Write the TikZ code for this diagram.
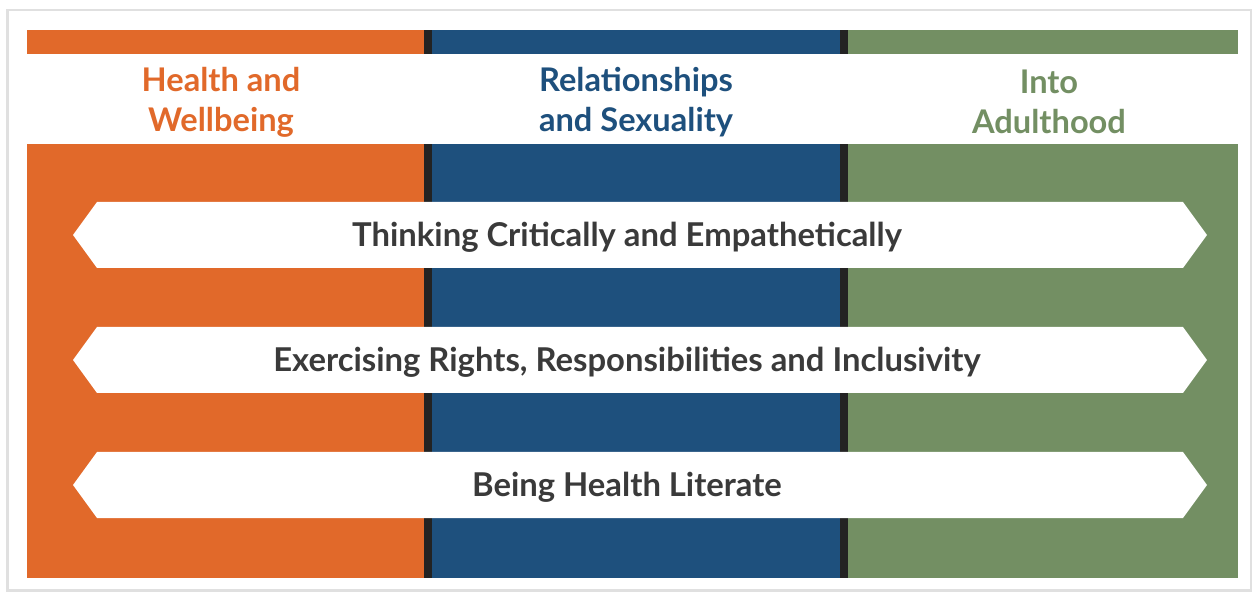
\documentclass[tikz,border=0pt]{standalone}
\usepackage{fontspec}
\setmainfont{Lato}
\usepackage{tikz}
\definecolor{hwOrange}{HTML}{E1692A}
\definecolor{rsBlue}{HTML}{1E507D}
\definecolor{adGreen}{HTML}{738F63}
\definecolor{sepDark}{HTML}{232323}
\definecolor{txtGray}{HTML}{3A3A3A}
\tikzset{
  title/.style={font=\bfseries\fontsize{16.3}{20}\selectfont, align=center},
  banner/.style={font=\bfseries\fontsize{16.4}{19}\selectfont, text=txtGray},
  bannerfill/.style={fill=white}
}

\begin{document}
\begin{tikzpicture}[x=0.5pt,y=-0.5pt]
    \useasboundingbox (0,0) rectangle (1257,592);
    \fill[white] (0,0) rectangle (1257,592);
    % frame with a soft shadow
    \fill[black!12] (6,9) rectangle (1252,592);
    \fill[white] (9,11) rectangle (1250,589);
    % top strips
    \fill[hwOrange] (27,30) rectangle (424,54);
    \fill[rsBlue] (432,30) rectangle (840,54);
    \fill[adGreen] (848,30) rectangle (1238,54);
    \fill[sepDark] (424,30) rectangle (432,54);
    \fill[sepDark] (840,30) rectangle (848,54);
    % columns
    \fill[hwOrange] (27,144) rectangle (424,578);
    \fill[rsBlue] (432,144) rectangle (840,578);
    \fill[adGreen] (848,144) rectangle (1238,578);
    \fill[sepDark] (424,144) rectangle (432,578);
    \fill[sepDark] (840,144) rectangle (848,578);
    % titles
    \node[title, text=hwOrange] (health) at (221,102) {Health and\\Wellbeing};
    \node[title, text=rsBlue] (relations) at (636,102) {Relationships\\and Sexuality};
    \node[title, text=adGreen] (adult) at (1049,102) {Into\\Adulthood};
    % banners
    \foreach \y/\txt [count=\i] in {235/Thinking Critically and Empathetically,
        360/{Exercising Rights, Responsibilities and Inclusivity},
        485/Being Health Literate} {
      \fill[bannerfill] (73,\y) -- (97,\y-33) -- (1183,\y-33) -- (1207,\y)
        -- (1183,\y+33) -- (97,\y+33) -- cycle;
      \node[banner] (band\i) at (627,\y+2) {\txt};
    }
\end{tikzpicture}
\end{document}
